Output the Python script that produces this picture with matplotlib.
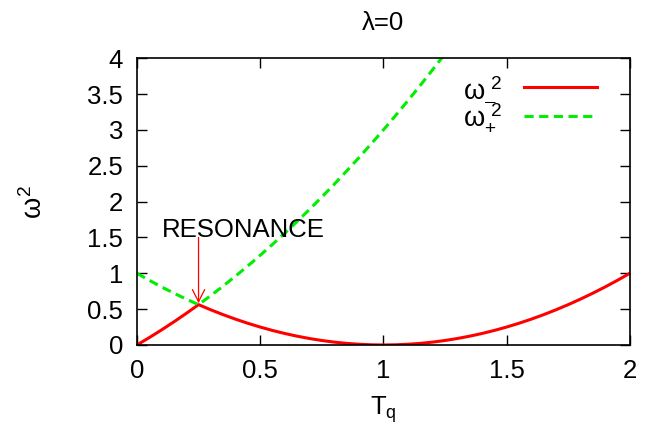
import matplotlib
matplotlib.use("Agg")
import matplotlib.pyplot as plt

plt.rcParams['font.family'] = ['Liberation Sans', 'DejaVu Sans']
plt.rcParams['mathtext.fontset'] = 'custom'
plt.rcParams['mathtext.rm'] = 'Liberation Sans'
plt.rcParams['mathtext.it'] = 'Liberation Sans'

# values
t_minus = [0.0, 0.05, 0.1, 0.15, 0.2, 0.25, 0.3, 0.35, 0.4, 0.45, 0.5, 0.55, 0.6,
           0.65, 0.7, 0.75, 0.8, 0.85, 0.9, 0.95, 1.0, 1.05, 1.1, 1.15, 1.2, 1.25,
           1.3, 1.35, 1.4, 1.45, 1.5, 1.55, 1.6, 1.65, 1.7, 1.75, 1.8, 1.85, 1.9,
           1.95, 2.0]
w_minus = [0.0, 0.1025, 0.21, 0.3225, 0.44, 0.5625, 0.49, 0.4225, 0.36, 0.3025,
           0.25, 0.2025, 0.16, 0.1225, 0.09, 0.0625, 0.04, 0.0225, 0.01, 0.0025,
           0.0, 0.0025, 0.01, 0.0225, 0.04, 0.0625, 0.09, 0.1225, 0.16, 0.2025,
           0.25, 0.3025, 0.36, 0.4225, 0.49, 0.5625, 0.64, 0.7225, 0.81, 0.9025,
           1.0]

t_plus = [0.0, 0.05, 0.1, 0.15, 0.2, 0.25, 0.3, 0.35, 0.4, 0.45, 0.5, 0.55, 0.6,
          0.65, 0.7, 0.75, 0.8, 0.85, 0.9, 0.95, 1.0, 1.05, 1.1, 1.15, 1.2, 1.25]
w_plus = [1.0, 0.9025, 0.81, 0.7225, 0.64, 0.5625, 0.69, 0.8225, 0.96, 1.1025,
          1.25, 1.4025, 1.56, 1.7225, 1.89, 2.0625, 2.24, 2.4225, 2.61, 2.8025,
          3.0, 3.2025, 3.41, 3.6225, 3.84, 4.0625]

xticks = [0, 0.5, 1, 1.5, 2]
xtick_labels = ['0', '0.5', '1', '1.5', '2']
yticks = [0, 0.5, 1, 1.5, 2, 2.5, 3, 3.5, 4]
ytick_labels = ['0', '0.5', '1', '1.5', '2', '2.5', '3', '3.5', '4']

res_t = 0.25
res_w = 0.5625

fs = 18.5

fig = plt.figure(figsize=(6.52, 4.28), dpi=100)
ax = fig.add_axes([0.210, 0.194, 0.756, 0.670])

ax.plot(t_minus, w_minus, color='#ff0000', lw=2.2,
        label=u'$\\omega_{\u2013}^{\\ 2}$')
ax.plot(t_plus, w_plus, color='#00ee00', lw=2.2, dashes=(3.0, 1.8),
        label=r'$\omega_{+}^{\ 2}$')

ax.set_xlim(0, 2)
ax.set_ylim(0, 4)
ax.set_xticks(xticks)
ax.set_xticklabels(xtick_labels)
ax.set_yticks(yticks)
ax.set_yticklabels(ytick_labels)
ax.tick_params(direction='in', length=7, width=1, top=True, right=True,
               labelsize=fs, pad=10)
for s in ax.spines.values():
    s.set_linewidth(1.2)

ax.annotate('', xy=(res_t, res_w + 0.02), xytext=(res_t, 1.5),
            arrowprops=dict(arrowstyle='->', color='red', lw=0.9,
                            mutation_scale=22, shrinkA=0, shrinkB=0))
ax.text(0.1, 1.5, 'RESONANCE', fontsize=fs, va='baseline', ha='left')

ax.set_title(u'\u03bb=0', fontsize=fs, pad=20)
ax.set_xlabel(r'T$_{\mathrm{q}}$', fontsize=fs, labelpad=8)
ax.set_ylabel(r'$\omega^{2}$', fontsize=fs + 1, labelpad=28)

ax.legend(loc='upper right', frameon=False, markerfirst=False, fontsize=fs + 1,
          handlelength=2.7, borderaxespad=0.2, labelspacing=0.0,
          handletextpad=0.8, bbox_to_anchor=(0.966, 1.0))

fig.savefig('out.png', dpi=100)
